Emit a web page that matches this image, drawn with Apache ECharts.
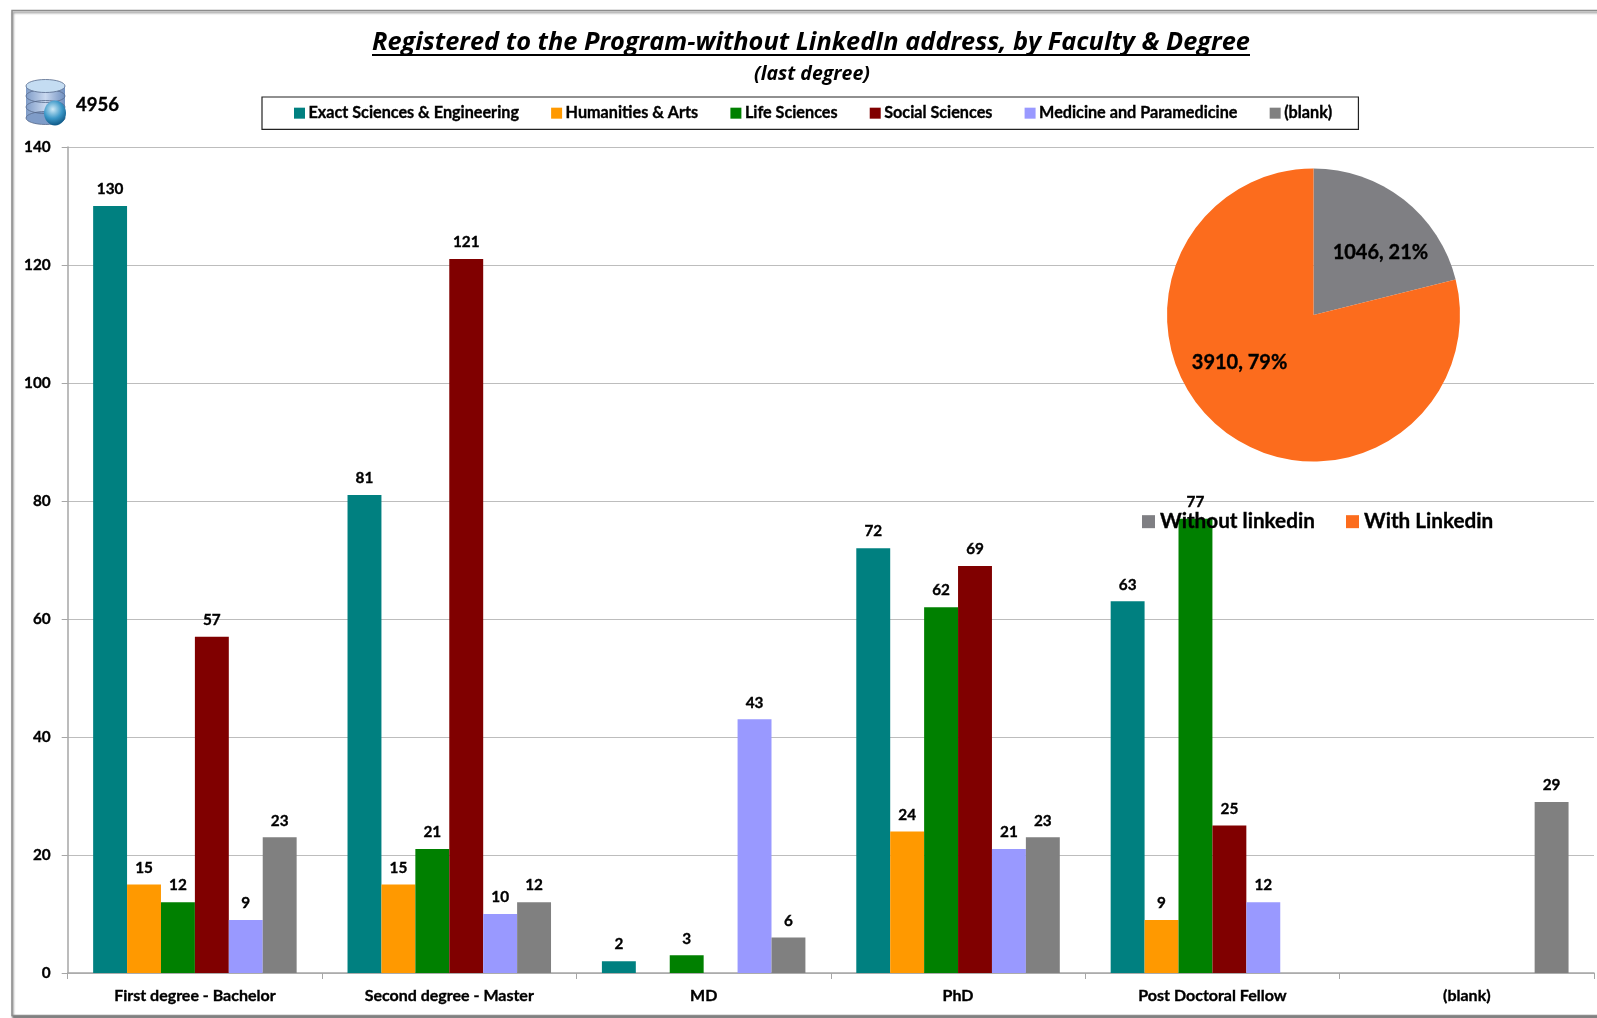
<!DOCTYPE html>
<html><head><meta charset="utf-8">
<style>html,body{margin:0;padding:0;background:#fff}#c{width:1597px;height:1018px}</style>
<script src="https://cdn.jsdelivr.net/npm/echarts@6/dist/echarts.min.js"></script>
</head><body><div id="c"></div>
<script>
const titleText = 'Registered to the Program-without LinkedIn address, by Faculty & Degree';
const subtitleText = '(last degree)';
const totalText = '4956';
const categories = ['First degree - Bachelor','Second degree - Master','MD','PhD','Post Doctoral Fellow','(blank)'];
const exactSciences = [130,81,2,72,63,null];
const humanities = [15,15,null,24,9,null];
const lifeSciences = [12,21,3,62,77,null];
const socialSciences = [57,121,null,69,25,null];
const medicine = [9,10,43,21,12,null];
const blank = [23,12,6,23,null,29];
const pieNames = ['Without linkedin','With Linkedin'];
const pieValues = [1046,3910];

const labelFont = 'Lato';
const heavy = {fontFamily:labelFont, fontWeight:'bold', textBorderColor:'#000', textBorderWidth:0.35};
const barSeries = [
  ['Exact Sciences & Engineering', exactSciences, '#008080'],
  ['Humanities & Arts', humanities, '#FF9900'],
  ['Life Sciences', lifeSciences, '#008000'],
  ['Social Sciences', socialSciences, '#800000'],
  ['Medicine and Paramedicine', medicine, '#9999FF'],
  ['(blank)', blank, '#808080']
].map(([name,data,color]) => ({
  name, data, type:'bar', barGap:0, barCategoryGap:'20%',
  itemStyle:{color}, z:2,
  label:{show:true, position:'top', distance:9.2, color:'#000', fontSize:15.3, ...heavy},
  animation:false
}));

const chart = echarts.init(document.getElementById('c'), null, {renderer:'canvas'});
chart.setOption({
  animation:false,
  backgroundColor:'#fff',
  title:[
    {text:titleText, left:806, top:25, textAlign:'center',
     textStyle:{fontFamily:'Open Sans', fontStyle:'italic', fontWeight:'bold', fontSize:25.35, color:'#000'}},
    {text:subtitleText, left:807, top:59.5, textAlign:'center',
     textStyle:{fontFamily:'Open Sans', fontStyle:'italic', fontWeight:'bold', fontSize:19.5, color:'#000'}}
  ],
  legend:[
    {data:barSeries.map(s=>s.name), left:262, top:97, orient:'horizontal',
     padding:[8,26,8,32], itemWidth:11, itemHeight:11, itemGap:32, icon:'rect',
     borderColor:'#222', borderWidth:1.2,
     textStyle:{color:'#000', fontSize:16.2, padding:[1,0,0,-1.5], ...heavy}},
    {data:pieNames, left:1137, top:506, itemWidth:13, itemHeight:13, itemGap:31, icon:'rect',
     textStyle:{color:'#000', fontSize:20.7, ...heavy}}
  ],
  grid:{left:67.7, right:3, top:147, bottom:45, containLabel:false},
  xAxis:{type:'category', data:categories,
    axisLine:{lineStyle:{color:'#a6a6a6',width:1.5}},
    axisTick:{show:true, length:6, lineStyle:{color:'#a6a6a6',width:1}},
    axisLabel:{color:'#000', fontSize:16, margin:15, ...heavy}},
  yAxis:{type:'value', min:0, max:140, interval:20,
    axisLine:{show:true, lineStyle:{color:'#a6a6a6',width:1.5}},
    axisTick:{show:true, length:6, lineStyle:{color:'#a6a6a6'}},
    splitLine:{lineStyle:{color:'#bdbdbd',width:1.2}},
    axisLabel:{color:'#000', fontSize:15.3, margin:17, ...heavy}},
  series:[...barSeries,
    {type:'pie', center:[1313.5,315], radius:[0,146.5], startAngle:90, clockwise:true, z:5,
     percentPrecision:0,
     data:pieNames.map((n,i)=>({name:n,value:pieValues[i],
       itemStyle:{color:['#7F7F83','#FC6C1D'][i]}})),
     label:{show:true, position:'inside', formatter:'{c}, {d}%', color:'#000',
       fontSize:20, ...heavy},
     labelLine:{show:false},
     labelLayout:(p)=> p.dataIndex===0 ? {dx:20,dy:-2} : {dx:-27,dy:-13},
     emphasis:{disabled:true}, silent:true}
  ],
  graphic:[
    {type:'rect', z:-1, shape:{x:12,y:10.5,width:1700,height:1005},
     style:{fill:'#fff',stroke:'#8c8c8c',lineWidth:1.5,shadowColor:'rgba(0,0,0,0.45)',shadowBlur:2,shadowOffsetX:1,shadowOffsetY:2}},
    {type:'rect', z:20, shape:{x:372,y:54,width:878,height:2}, style:{fill:'#000'}},
    {type:'text', z:20, x:76, y:96, style:{text:totalText, fontFamily:labelFont, fontWeight:'bold', fontSize:18.5, fill:'#000', stroke:'#000', lineWidth:0.35}},
    {type:'group', z:20, x:26, y:79, children:[
      {type:'rect', shape:{x:0,y:7,width:39,height:32},
       style:{fill:{type:'linear',x:0,y:0,x2:1,y2:0,colorStops:[{offset:0,color:'#7f9cc8'},{offset:.5,color:'#c9d8ef'},{offset:1,color:'#6f8fc0'}]}}},
      {type:'ellipse', shape:{cx:19.5,cy:39,rx:19.5,ry:6.5}, style:{fill:'#7f9cc8',stroke:'#55688a',lineWidth:.8}},
      {type:'ellipse', shape:{cx:19.5,cy:28,rx:19.5,ry:6.5}, style:{fill:'none',stroke:'#55688a',lineWidth:.8}},
      {type:'ellipse', shape:{cx:19.5,cy:17,rx:19.5,ry:6.5}, style:{fill:'none',stroke:'#55688a',lineWidth:.8}},
      {type:'ellipse', shape:{cx:19.5,cy:7,rx:19.5,ry:6.5}, style:{fill:'#c4dcf2',stroke:'#55688a',lineWidth:.8}},
      {type:'ellipse', shape:{cx:29,cy:34,rx:11,ry:12.5},
       style:{fill:{type:'radial',x:.4,y:.35,r:.7,colorStops:[{offset:0,color:'#cfeaf7'},{offset:.6,color:'#3c98c8'},{offset:1,color:'#14608e'}]}}}
    ]}
  ]
});
</script></body></html>
